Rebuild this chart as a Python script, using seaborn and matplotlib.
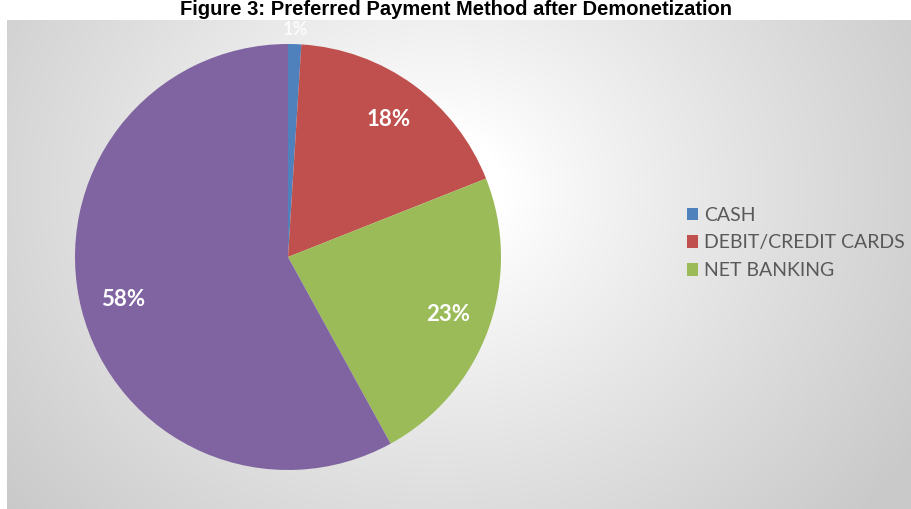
import numpy as np
import matplotlib
matplotlib.use("Agg")
import matplotlib.pyplot as plt
import seaborn as sns

# ---- data ----
categories = ["CASH", "DEBIT/CREDIT CARDS", "NET BANKING", "E-WALLETS"]
shares = [1, 18, 23, 58]
legend_categories = ["CASH", "DEBIT/CREDIT CARDS", "NET BANKING"]
title = "Figure 3: Preferred Payment Method after Demonetization"

sns.set_theme(style="white")
plt.rcParams["font.family"] = ["Lato", "DejaVu Sans"]

colors = ["#4F81BD", "#C0504D", "#9BBB59", "#8064A2"]

W, H = 912, 509
fig = plt.figure(figsize=(W / 100, H / 100), dpi=100)
fig.patch.set_facecolor("white")

# gradient background panel
bg_left, bg_top = 7, 20
bg = fig.add_axes([bg_left / W, 0, 1 - bg_left / W, (H - bg_top) / H])
bg.set_axis_off()
gw, gh = W - bg_left, H - bg_top
yy, xx = np.mgrid[0:gh, 0:gw]
cx, cy = 430, 170
d = np.sqrt(((xx - cx) / 1.15) ** 2 + (yy - cy) ** 2)
t = np.clip((d - 60) / 430, 0, 1) ** 0.9
val = 1.0 - t * (1.0 - 0.79)
img = np.dstack([val, val, val])
bg.imshow(img, aspect="auto", interpolation="bilinear")

# pie axes
pcx, pcy, r = 288, 257, 213
pie_ax = fig.add_axes([(pcx - r) / W, (H - pcy - r) / H, 2 * r / W, 2 * r / H])
pie_ax.set_axis_off()
wedges, _, autotexts = pie_ax.pie(
    shares,
    colors=colors,
    startangle=90,
    counterclock=False,
    autopct=lambda p: f"{p:.0f}%",
    pctdistance=0.8,
    wedgeprops=dict(linewidth=0),
    textprops=dict(color="white", fontsize=16, fontweight="bold"),
)
pie_ax.set_xlim(-1, 1)
pie_ax.set_ylim(-1, 1)

# move the tiny CASH label just outside the pie
w0 = wedges[0]
mid = np.deg2rad((w0.theta1 + w0.theta2) / 2)
autotexts[0].set_position((1.07 * np.cos(mid), 1.07 * np.sin(mid)))
autotexts[0].set_fontsize(13)
autotexts[0].set_alpha(0.85)

# legend
leg = fig.legend(
    wedges[:3],
    legend_categories,
    loc="center left",
    bbox_to_anchor=(673 / W, 1 - 243 / H),
    frameon=False,
    fontsize=14,
    handlelength=0.6,
    handleheight=0.6,
    handletextpad=0.3,
    labelspacing=0.55,
    borderpad=0.2,
)
for txt in leg.get_texts():
    txt.set_color("#595959")

# title
fig.text(0.5, 1 - 15 / H, title, ha="center", va="baseline",
         fontsize=14.5, fontweight="bold", family=["Liberation Sans", "DejaVu Sans"],
         color="black")

fig.savefig("out.png", dpi=100)
